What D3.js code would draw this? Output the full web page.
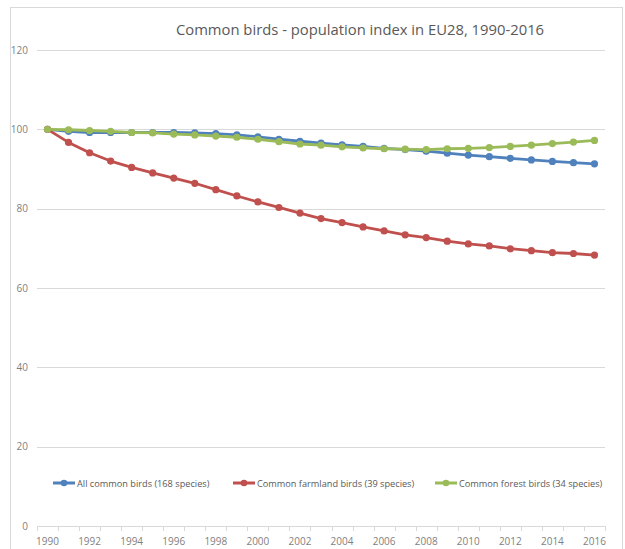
<!DOCTYPE html>
<html><head><meta charset="utf-8">
<script src="https://cdn.jsdelivr.net/npm/d3@7"></script>
<style>body{margin:0;background:#fff}svg{display:block;font-family:"Open Sans","Liberation Sans",sans-serif}</style>
</head><body>
<svg id="c" width="625" height="549"></svg>
<script>
const years = d3.range(1990, 2017);
const allBirds = [100, 99.5, 99.2, 99.2, 99.2, 99.2, 99.2, 99.1, 98.9, 98.6, 98.1, 97.5, 97.0, 96.5, 96.1, 95.7, 95.2, 94.9, 94.5, 94.0, 93.5, 93.1, 92.7, 92.3, 91.9, 91.6, 91.3];
const farmland = [100, 96.7, 94.1, 92.0, 90.4, 89.0, 87.7, 86.4, 84.8, 83.2, 81.7, 80.3, 78.9, 77.5, 76.5, 75.4, 74.4, 73.4, 72.7, 71.8, 71.1, 70.6, 69.9, 69.4, 68.9, 68.7, 68.3];
const forest = [100, 99.9, 99.7, 99.5, 99.2, 99.1, 98.8, 98.6, 98.3, 98.0, 97.5, 96.9, 96.3, 96.0, 95.6, 95.3, 95.1, 95.0, 94.9, 95.1, 95.2, 95.4, 95.7, 96.0, 96.4, 96.8, 97.2];
const seriesNames = ["All common birds (168 species)", "Common farmland birds (39 species)", "Common forest birds (34 species)"];
const seriesColors = ["#4F81BD", "#C0504D", "#9BBB59"];
const yTicks = [0, 20, 40, 60, 80, 100, 120];
const xLabels = years.filter(y => y % 2 === 0);
const title = "Common birds - population index in EU28, 1990-2016";

const series = [allBirds, farmland, forest].map((v, i) => ({name: seriesNames[i], color: seriesColors[i], values: v}));

const svg = d3.select("#c");
svg.append("rect").attr("x", 10.5).attr("y", 7.5).attr("width", 612).attr("height", 560)
  .attr("fill", "none").attr("stroke", "#d9d9d9");

const x = d3.scaleBand().domain(years).range([37, 605]).padding(0);
const y = d3.scaleLinear().domain([0, 120]).range([526, 50]);
const cx = d => x(d) + x.bandwidth() / 2;

svg.append("g").selectAll("line").data(yTicks.filter(t => t > 0)).join("line")
  .attr("x1", 37).attr("x2", 605).attr("y1", d => Math.round(y(d)) + 0.5).attr("y2", d => Math.round(y(d)) + 0.5)
  .attr("stroke", "#d9d9d9").attr("stroke-width", 1);

svg.append("g").selectAll("text").data(yTicks).join("text")
  .attr("x", 28).attr("y", d => y(d) + 3.5).attr("text-anchor", "end")
  .attr("font-size", 10).attr("fill", "#7f7f7f").text(d => d);

svg.append("line").attr("x1", 37).attr("x2", 605).attr("y1", 526.5).attr("y2", 526.5).attr("stroke", "#d9d9d9");
const bounds = years.map(d => x(d)).concat([x(2016) + x.bandwidth()]);
svg.append("g").selectAll("line").data(bounds).join("line")
  .attr("x1", d => Math.round(d) + 0.5).attr("x2", d => Math.round(d) + 0.5).attr("y1", 526).attr("y2", 531)
  .attr("stroke", "#d9d9d9");
svg.append("g").selectAll("text").data(xLabels).join("text")
  .attr("x", d => cx(d)).attr("y", 545).attr("text-anchor", "middle")
  .attr("font-size", 10).attr("fill", "#7f7f7f").text(d => d);

svg.append("text").attr("x", 360).attr("y", 35).attr("text-anchor", "middle")
  .attr("font-size", 14.8).attr("fill", "#595959").text(title);

const line = d3.line().x((d, i) => cx(years[i])).y(d => y(d));
const g = svg.append("g");
series.forEach(s => {
  g.append("path").attr("d", line(s.values)).attr("fill", "none").attr("stroke", s.color)
    .attr("stroke-width", 2.8).attr("stroke-linejoin", "round").attr("stroke-linecap", "round");
  g.append("g").selectAll("circle").data(s.values).join("circle")
    .attr("cx", (d, i) => cx(years[i])).attr("cy", d => y(d)).attr("r", 3.6).attr("fill", s.color);
});

const legX = [53, 233, 435];
const lg = svg.append("g");
series.forEach((s, i) => {
  const lx = legX[i], ly = 483;
  lg.append("line").attr("x1", lx).attr("x2", lx + 22).attr("y1", ly).attr("y2", ly)
    .attr("stroke", s.color).attr("stroke-width", 3);
  lg.append("circle").attr("cx", lx + 11).attr("cy", ly).attr("r", 3.3).attr("fill", s.color);
  lg.append("text").attr("x", lx + 24).attr("y", ly + 3.5).attr("font-size", 9.2)
    .attr("fill", "#595959").text(s.name);
});
</script>
</body></html>
